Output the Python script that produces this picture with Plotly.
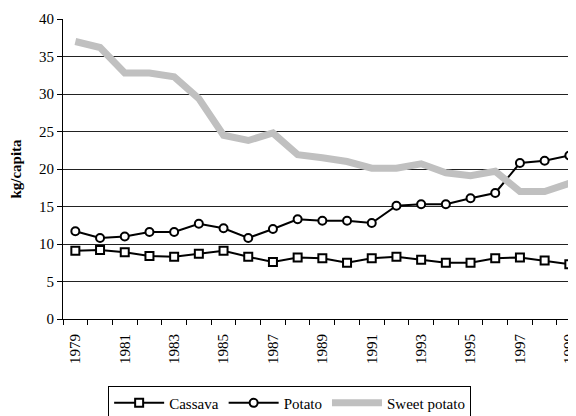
import plotly.graph_objects as go

years = [str(y) for y in range(1979, 2000)]
cassava = [9.1, 9.2, 8.9, 8.4, 8.3, 8.7, 9.1, 8.3, 7.6, 8.2, 8.1, 7.5, 8.1, 8.3, 7.9, 7.5, 7.5, 8.1, 8.2, 7.8, 7.3]
potato = [11.7, 10.8, 11.0, 11.6, 11.6, 12.7, 12.1, 10.8, 12.0, 13.3, 13.1, 13.1, 12.8, 15.1, 15.3, 15.3, 16.1, 16.8, 20.8, 21.1, 21.8]
sweet_potato = [37.0, 36.2, 32.8, 32.8, 32.3, 29.4, 24.5, 23.8, 24.8, 21.9, 21.5, 21.0, 20.1, 20.1, 20.7, 19.5, 19.1, 19.7, 17.0, 17.0, 18.1]
tick_labels = [y if i % 2 == 0 else "" for i, y in enumerate(years)]

FONT = "Liberation Serif"

fig = go.Figure()
fig.add_trace(go.Scatter(
    x=years, y=cassava, name="Cassava", mode="lines+markers",
    line=dict(color="black", width=2),
    marker=dict(symbol="square", size=8, color="white", line=dict(color="black", width=2)),
))
fig.add_trace(go.Scatter(
    x=years, y=potato, name="Potato", mode="lines+markers",
    line=dict(color="black", width=2),
    marker=dict(symbol="circle", size=8, color="white", line=dict(color="black", width=2)),
))
fig.add_trace(go.Scatter(
    x=years, y=sweet_potato, name="Sweet potato", mode="lines",
    line=dict(color="#c0c0c0", width=7),
))

# page body has an 8px margin, so the figure is sized/offset to compensate
fig.update_layout(
    width=568, height=408,
    margin=dict(l=55, r=0, t=11, b=97, autoexpand=False),
    paper_bgcolor="white", plot_bgcolor="white",
    font=dict(family=FONT, size=15, color="black"),
    showlegend=True,
    legend=dict(
        orientation="h", x=0.088, xanchor="left", y=-0.222, yanchor="top",
        bordercolor="black", borderwidth=1, font=dict(size=15),
        itemwidth=50, tracegroupgap=0,
    ),
    xaxis=dict(
        type="category", range=[-0.5, 20.27],
        tickmode="array", tickvals=years, ticktext=tick_labels,
        tickangle=-90, tickson="boundaries",
        ticks="outside", ticklen=5, tickcolor="black",
        showline=True, linecolor="black", linewidth=1,
        showgrid=False, tickfont=dict(size=15), automargin=False,
        ticklabelstandoff=8,
    ),
    yaxis=dict(
        range=[0, 40], dtick=5, tick0=0,
        ticks="outside", ticklen=5, tickcolor="black",
        showline=True, linecolor="black", linewidth=1,
        showgrid=True, gridcolor="#222222", gridwidth=1,
        zeroline=False, tickfont=dict(size=15), automargin=False,
        title=dict(text="<b>kg/capita</b>", font=dict(size=15), standoff=14),
    ),
)

fig.write_html("out.html")
